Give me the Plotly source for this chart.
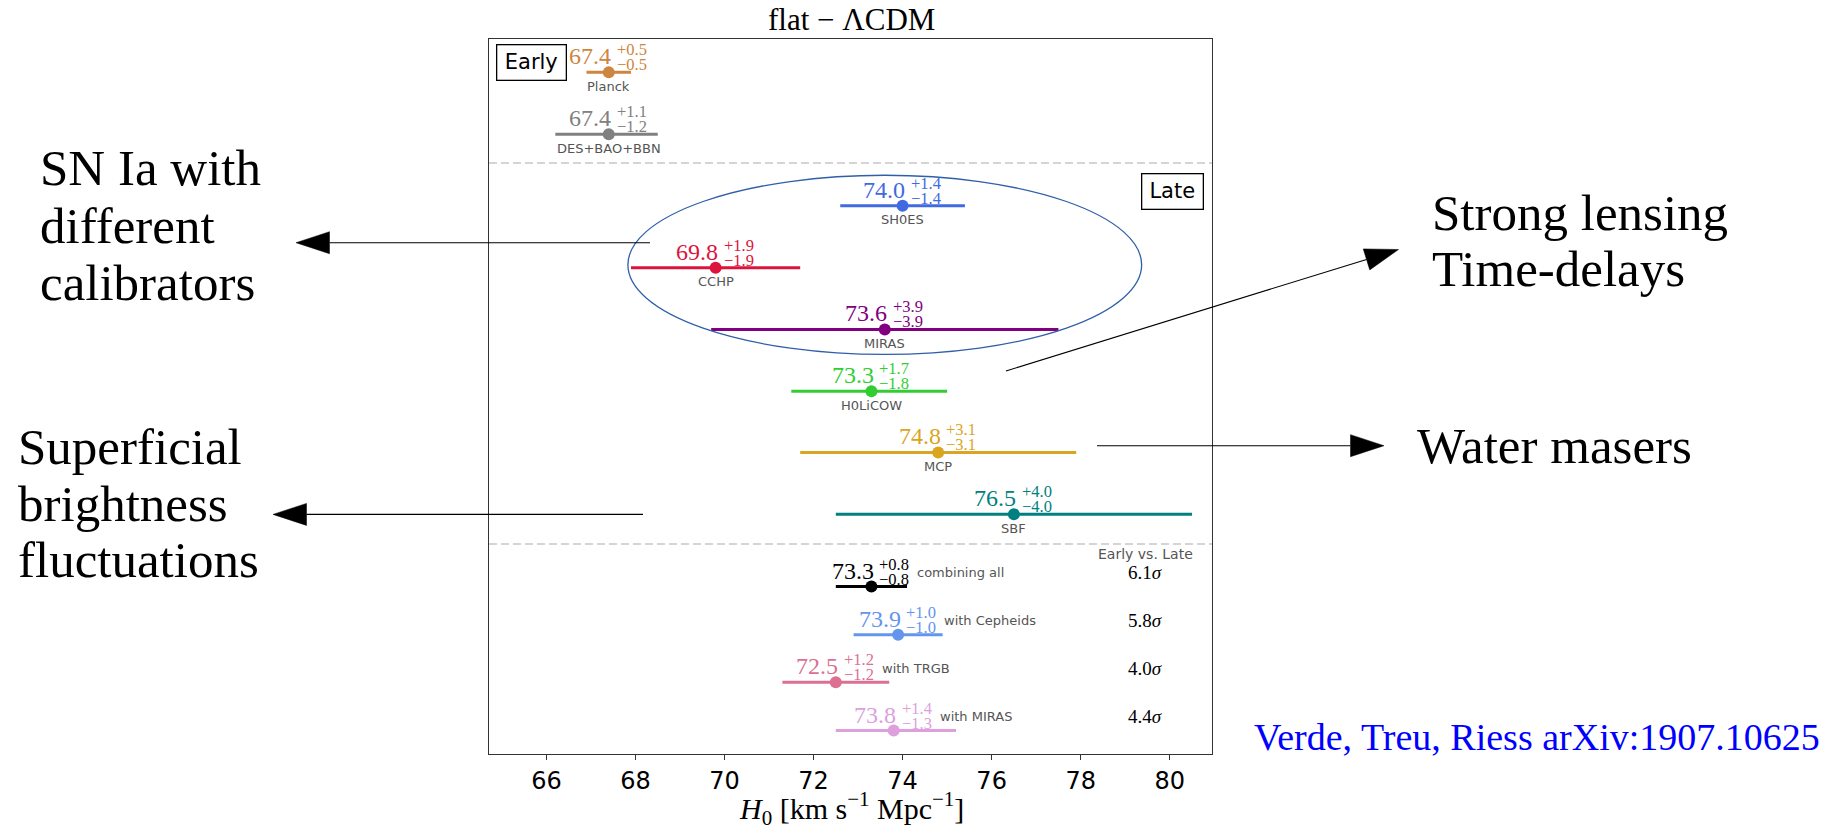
import math
import plotly.graph_objects as go

# ---------------- data: H0 measurements [km s^-1 Mpc^-1] ----------------
names = ["Planck", "DES+BAO+BBN", "SH0ES", "CCHP", "MIRAS", "H0LiCOW", "MCP", "SBF"]
h0 = [67.4, 67.4, 74.0, 69.8, 73.6, 73.3, 74.8, 76.5]
err_up = [0.5, 1.1, 1.4, 1.9, 3.9, 1.7, 3.1, 4.0]
err_lo = [0.5, 1.2, 1.4, 1.9, 3.9, 1.8, 3.1, 4.0]

comb_names = ["combining all", "with Cepheids", "with TRGB", "with MIRAS"]
comb_h0 = [73.3, 73.9, 72.5, 73.8]
comb_up = [0.8, 1.0, 1.2, 1.4]
comb_lo = [0.8, 1.0, 1.2, 1.3]
comb_sigma = [6.1, 5.8, 4.0, 4.4]

x_ticks = [66, 68, 70, 72, 74, 76, 78, 80]

# ---------------- styling / layout ----------------
colors = ["#CD853F", "#808080", "#4169E1", "#DC143C", "#800080", "#32CD32", "#DAA520", "#008080"]
comb_colors = ["#000000", "#6495ED", "#DB7093", "#DDA0DD"]

rows = [0, 1, 2.16, 3.16, 4.16, 5.16, 6.15, 7.15]
comb_rows = [8.32, 9.10, 9.87, 10.65]

W, H = 1834, 830
L, R, T, B = 489, 622, 39, 76
PW, PH = W - L - R, H - T - B

SERIF = "Liberation Serif"
SANS = "DejaVu Sans"


def xp(px):
    return (px - L) / PW


def yp(py):
    return (H - B - py) / PH


fig = go.Figure()
annotations = []
shapes = []


def add_point(x, y, up, lo, color):
    fig.add_trace(go.Scatter(
        x=[x], y=[y], mode="markers",
        marker=dict(size=12, color=color),
        error_x=dict(type="data", symmetric=False, array=[up], arrayminus=[lo],
                     thickness=3, width=0, color=color),
        showlegend=False, hoverinfo="skip"))


def value_label(x, y, up, lo, color):
    annotations.extend([
        dict(x=x, y=y, xref="x", yref="y", text=f"{x:.1f}", showarrow=False,
             xanchor="right", yanchor="middle", xshift=3.5, yshift=16, borderpad=0,
             font=dict(family=SERIF, size=24, color=color)),
        dict(x=x, y=y, xref="x", yref="y", text=f"+{up:.1f}", showarrow=False,
             xanchor="left", yanchor="middle", xshift=7, yshift=22.5, borderpad=0,
             font=dict(family=SERIF, size=16.5, color=color)),
        dict(x=x, y=y, xref="x", yref="y", text=f"\u2212{lo:.1f}", showarrow=False,
             xanchor="left", yanchor="middle", xshift=7, yshift=7.5, borderpad=0,
             font=dict(family=SERIF, size=16.5, color=color)),
    ])


# individual measurements
for name, v, up, lo, c, r in zip(names, h0, err_up, err_lo, colors, rows):
    add_point(v, r, up, lo, c)
    value_label(v, r, up, lo, c)
    annotations.append(dict(x=v, y=r, xref="x", yref="y", text=name, showarrow=False,
                            xanchor="center", yanchor="middle", yshift=-14, borderpad=0,
                            font=dict(family=SANS, size=13, color="#555555")))

# combined late-universe values
for name, v, up, lo, s, c, r in zip(comb_names, comb_h0, comb_up, comb_lo, comb_sigma,
                                    comb_colors, comb_rows):
    add_point(v, r, up, lo, c)
    value_label(v, r, up, lo, c)
    annotations.append(dict(x=v, y=r, xref="x", yref="y", text=name, showarrow=False,
                            xanchor="left", yanchor="middle", xshift=45, yshift=14, borderpad=0,
                            font=dict(family=SANS, size=13, color="#555555")))
    annotations.append(dict(x=xp(1145), y=r, xref="paper", yref="y",
                            text=f"{s:.1f}<i>\u03c3</i>", showarrow=False,
                            xanchor="center", yanchor="middle", yshift=14, borderpad=0,
                            font=dict(family=SERIF, size=19, color="#000000")))

annotations.append(dict(x=xp(1145), y=comb_rows[0], xref="paper", yref="y",
                        text="Early vs. Late", showarrow=False, xanchor="center",
                        yanchor="middle", yshift=33, borderpad=0,
                        font=dict(family=SANS, size=14, color="#555555")))

# Early / Late boxes
for txt, cx, cy, bw in [("Early", 531, 63, 68), ("Late", 1172.6, 191.5, 60)]:
    annotations.append(dict(x=xp(cx), y=yp(cy), xref="paper", yref="paper", text=txt,
                            showarrow=False, xanchor="center", yanchor="middle",
                            width=bw, height=34, borderpad=0, bordercolor="#000000",
                            borderwidth=1.3, bgcolor="white",
                            font=dict(family=SANS, size=21, color="#000000")))

# section separators
for ysep in [1.466, 7.631]:
    shapes.append(dict(type="line", xref="paper", yref="y", x0=0, x1=1, y0=ysep, y1=ysep,
                       line=dict(color="#C8C8C8", width=1.5, dash="8px,4px"), layer="below"))

# ellipse around the SN Ia distance-ladder group
shapes.append(dict(type="circle", xref="x", yref="y", x0=67.83, x1=79.37, y0=1.665, y1=4.564,
                   line=dict(color="#2F5FA8", width=1.3)))


# arrows (pixel geometry converted to paper coordinates)
def arrow(x0, y0, tx, ty, head_len=33.5, half_w=11):
    dx, dy = tx - x0, ty - y0
    n = math.hypot(dx, dy)
    ux, uy = dx / n, dy / n
    bx, by = tx - ux * head_len, ty - uy * head_len
    shapes.append(dict(type="line", xref="paper", yref="paper",
                       x0=xp(x0), y0=yp(y0), x1=xp(bx), y1=yp(by),
                       line=dict(color="#000000", width=1.1)))
    px_, py_ = -uy, ux
    pts = [(tx, ty), (bx + px_ * half_w, by + py_ * half_w), (bx - px_ * half_w, by - py_ * half_w)]
    path = "M " + " L ".join(f"{xp(a):.5f},{yp(b):.5f}" for a, b in pts) + " Z"
    shapes.append(dict(type="path", xref="paper", yref="paper", path=path,
                       fillcolor="#000000", line=dict(color="#000000", width=0.5)))


arrow(650, 242.7, 296, 242.7)
arrow(643, 514.4, 273, 514.4)
arrow(1006, 371, 1398.5, 249.5)
arrow(1097, 445.7, 1384, 445.7)

# side captions
SIDE = 51
captions = [
    ("SN Ia with", 39, 185), ("different", 39, 243), ("calibrators", 39, 300),
    ("Superficial", 16.5, 464), ("brightness", 16.5, 521.7), ("fluctuations", 16.5, 577.5),
    ("Strong lensing", 1431, 230), ("Time-delays", 1431, 286.7),
    ("Water masers", 1415.7, 463.5),
]
for txt, lx, base in captions:
    annotations.append(dict(x=xp(lx), y=yp(base - 0.3375 * SIDE), xref="paper", yref="paper",
                            text=txt, showarrow=False, xanchor="left", yanchor="middle",
                            borderpad=0, font=dict(family=SERIF, size=SIDE, color="#000000")))

annotations.append(dict(x=xp(1253), y=yp(750 - 0.3375 * 38), xref="paper", yref="paper",
                        text="Verde, Treu, Riess arXiv:1907.10625", showarrow=False,
                        xanchor="left", yanchor="middle", borderpad=0,
                        font=dict(family=SERIF, size=38, color="#0000FF")))

# title and axis label
annotations.append(dict(x=xp(851), y=yp(19.5), xref="paper", yref="paper",
                        text="flat \u2212 \u039bCDM", showarrow=False, xanchor="center",
                        yanchor="middle", borderpad=0,
                        font=dict(family=SERIF, size=31, color="#000000")))
annotations.append(dict(x=xp(851), y=yp(808), xref="paper", yref="paper",
                        text="<i>H</i><sub>0</sub> [km s<sup>\u22121</sup> Mpc<sup>\u22121</sup>]",
                        showarrow=False, xanchor="center", yanchor="middle", borderpad=0,
                        font=dict(family=SERIF, size=30, color="#000000")))

fig.update_layout(
    width=W, height=H,
    margin=dict(l=L, r=R, t=T, b=B, pad=0),
    paper_bgcolor="white", plot_bgcolor="white",
    annotations=annotations, shapes=shapes,
    showlegend=False,
)
fig.update_xaxes(range=[64.71, 80.95], tickvals=x_ticks, ticktext=[str(t) for t in x_ticks],
                 ticks="outside", ticklen=5, tickwidth=1, tickcolor="#333333",
                 tickfont=dict(family=SANS, size=24, color="#000000"),
                 showline=True, linecolor="#333333", linewidth=1, mirror=True,
                 showgrid=False, zeroline=False)
fig.update_yaxes(range=[11.03, -0.54], showticklabels=False, ticks="",
                 showline=True, linecolor="#333333", linewidth=1, mirror=True,
                 showgrid=False, zeroline=False)

fig.write_html("out.html")
